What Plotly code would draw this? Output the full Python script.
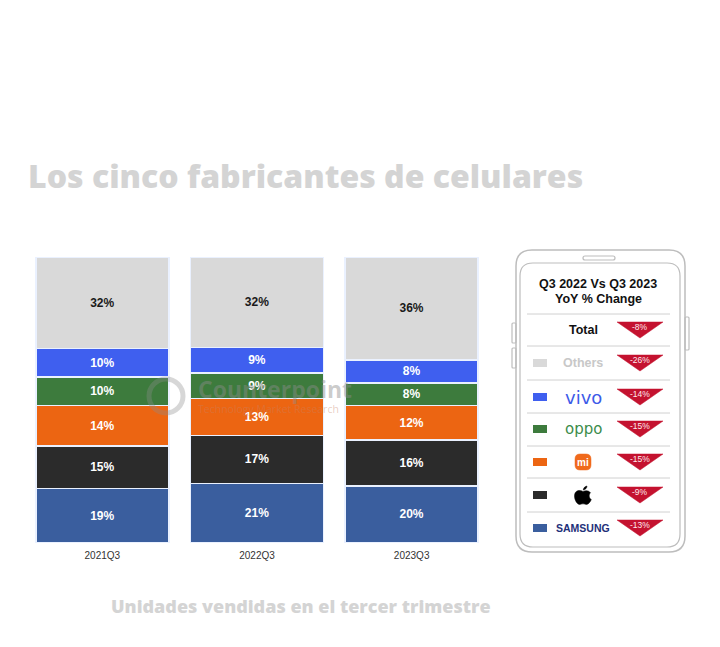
import plotly.graph_objects as go

# ---------------- data ----------------
quarters = ["2021Q3", "2022Q3", "2023Q3"]
brands = ["Samsung", "Apple", "Xiaomi", "OPPO", "vivo", "Others"]
samsung = [19, 21, 20]
apple = [15, 17, 16]
xiaomi = [14, 13, 12]
oppo = [10, 9, 8]
vivo = [10, 9, 8]
others = [32, 32, 36]
series = [samsung, apple, xiaomi, oppo, vivo, others]
colors = ["#3A5E9E", "#2B2B2B", "#EC6512", "#3D7B3D", "#3F5FEF", "#D9D9D9"]
text_colors = ["white", "white", "white", "white", "white", "#1A1A1A"]

# YoY legend (phone panel)
yoy_labels = ["Total", "Others", "vivo", "oppo", "mi", "apple", "SAMSUNG"]
yoy_values = [-8, -26, -14, -15, -15, -9, -13]

# page body has an 8px margin -> compensate
OFF = 8
SW, SH = 720, 647
W, H = SW - OFF, SH - OFF

fig = go.Figure()
for name, vals, col, tcol in zip(brands, series, colors, text_colors):
    fig.add_trace(go.Bar(
        x=quarters, y=vals, name=name, marker=dict(color=col, line=dict(color="#EAF1FF", width=1.5)),
        text=[f"{v}%" for v in vals], texttemplate="%{text}", textposition="inside",
        insidetextanchor="middle",
        textfont=dict(family="Liberation Sans, Arial", size=12, color=tcol, weight="bold"),
        hoverinfo="skip", showlegend=False, xaxis="x", yaxis="y"))

fig.add_trace(go.Scatter(x=[100], y=[100], mode="markers", marker=dict(opacity=0),
                         xaxis="x2", yaxis="y2", showlegend=False, hoverinfo="skip"))

shapes = []
ann = []

def rrect(x0, y0, x1, y1, r):
    return (f"M {x0+r} {y0} L {x1-r} {y0} Q {x1} {y0} {x1} {y0+r} L {x1} {y1-r} "
            f"Q {x1} {y1} {x1-r} {y1} L {x0+r} {y1} Q {x0} {y1} {x0} {y1-r} "
            f"L {x0} {y0+r} Q {x0} {y0} {x0+r} {y0} Z")

def addpath(path, line="#BDBDBD", fill=None, width=1.3):
    d = dict(type="path", path=path, xref="x2", yref="y2", line=dict(color=line, width=width))
    if fill:
        d["fillcolor"] = fill
    shapes.append(d)

def txt(x, y, s, size, color, weight="normal", family="Liberation Sans, Arial", opacity=1, xanchor="center"):
    ann.append(dict(x=x, y=y, xref="x2", yref="y2", text=s, showarrow=False,
                    xanchor=xanchor, yanchor="middle", opacity=opacity,
                    font=dict(family=family, size=size, color=color, weight=weight)))

# watermark
shapes.append(dict(type="circle", xref="x2", yref="y2", x0=149, y0=379, x1=183, y1=413,
                   line=dict(color="rgba(140,140,140,0.35)", width=5)))
txt(196, 389, "Counterpoint", 23, "rgba(140,140,140,0.45)", "bold", "Open Sans", xanchor="left")
txt(196, 409, "Technology Market Research", 10.5, "rgba(200,130,100,0.4)", "normal", "Open Sans", xanchor="left")

# phone body
addpath(rrect(516, 250, 685, 552, 16), "#BDBDBD", None, 1.5)
addpath(rrect(520, 263, 680, 547, 13), "#BDBDBD", None, 1.2)
addpath(rrect(583, 256, 615, 260, 2), "#BDBDBD", None, 1.2)
addpath(rrect(512, 323, 516, 343, 1), "#BDBDBD", None, 1.2)
addpath(rrect(512, 348, 516, 368, 1), "#BDBDBD", None, 1.2)
addpath(rrect(685, 317, 689, 350, 1), "#BDBDBD", None, 1.2)

txt(598, 284, "Q3 2022 Vs Q3 2023", 12.5, "#111", "bold")
txt(598, 299, "YoY % Change", 12.5, "#111", "bold")

sep_y = [314, 346, 380, 413, 446, 478, 512]
row_y = [330, 363, 397, 429, 462, 495, 528]
for sy in sep_y:
    shapes.append(dict(type="line", xref="x2", yref="y2", x0=527, x1=670, y0=sy, y1=sy,
                       line=dict(color="#D0D0D0", width=1)))

legend_cols = [None, colors[5], colors[4], colors[3], colors[2], colors[1], colors[0]]
for i, (lab, val, col, ry) in enumerate(zip(yoy_labels, yoy_values, legend_cols, row_y)):
    addpath(f"M 617 {ry-8} L 663 {ry-8} L 640 {ry+8} Z", "#C4122F", "#C4122F", 0.5)
    txt(640, ry - 3, f"{val}%", 8.5, "#FFE8EC", "normal")
    if col:
        shapes.append(dict(type="rect", xref="x2", yref="y2", x0=533, x1=547, y0=ry - 4, y1=ry + 4,
                           fillcolor=col, line=dict(width=0)))
    if lab == "Total":
        txt(583, ry, "Total", 12.5, "#111", "bold")
    elif lab == "Others":
        txt(583, ry, "Others", 12.5, "#C8C8C8", "bold")
    elif lab == "vivo":
        txt(583, ry, "vivo", 18, "#3D5BE8", "normal", "DejaVu Sans")
    elif lab == "oppo":
        txt(583, ry, "oppo", 15, "#3C8C4A", "normal", "DejaVu Sans")
    elif lab == "mi":
        addpath(rrect(575, ry - 8, 591, ry + 8, 5), "#F06A1C", "#F06A1C", 0.5)
        txt(583, ry, "mi", 10, "white", "bold")
    elif lab == "apple":
        cx, cy = 583, ry + 1
        body = (f"M {cx} {cy-4.5} C {cx-3} {cy-6.5} {cx-8.5} {cy-6} {cx-8.5} {cy} "
                f"C {cx-8.5} {cy+4.5} {cx-5.5} {cy+8.5} {cx-3.5} {cy+8.5} "
                f"C {cx-2} {cy+8.5} {cx-1.5} {cy+7.8} {cx} {cy+7.8} "
                f"C {cx+1.5} {cy+7.8} {cx+2} {cy+8.5} {cx+3.5} {cy+8.5} "
                f"C {cx+5.5} {cy+8.5} {cx+7.5} {cy+5.5} {cx+8.3} {cy+3.5} "
                f"C {cx+6} {cy+2.5} {cx+5.5} {cy-1.5} {cx+7.5} {cy-3.2} "
                f"C {cx+6} {cy-5.5} {cx+3} {cy-6} {cx} {cy-4.5} Z")
        addpath(body, "#000", "#000", 0.5)
        leaf = f"M {cx+0.3} {cy-6} C {cx+0.3} {cy-8} {cx+2} {cy-9.7} {cx+4} {cy-10} C {cx+4} {cy-8} {cx+2.3} {cy-6.2} {cx+0.3} {cy-6} Z"
        addpath(leaf, "#000", "#000", 0.5)
    elif lab == "SAMSUNG":
        txt(583, ry, "SAMSUNG", 10.5, "#1E3079", "bold", "Liberation Sans, Arial")

# title & subtitle
txt(26, 175, "Los cinco fabricantes de celulares", 32, "#D4D4D4", 800, "Open Sans", xanchor="left")
txt(301, 606, "Unidades vendidas en el tercer trimestre", 18, "#D4D4D4", 800, "Open Sans")

fig.update_layout(
    width=W, height=H, margin=dict(l=0, r=0, t=0, b=0),
    paper_bgcolor="white", plot_bgcolor="rgba(0,0,0,0)",
    barmode="stack", barnorm="percent", bargap=0.14,
    xaxis=dict(domain=[(25 - OFF) / W, (489 - OFF) / W], anchor="y", showgrid=False, zeroline=False,
               showline=False, ticks="", ticklabelstandoff=5,
               tickfont=dict(family="Liberation Sans, Arial", size=10, color="#333")),
    yaxis=dict(domain=[(SH - 543) / H, (SH - 257) / H], range=[0, 100], visible=False, anchor="x"),
    xaxis2=dict(domain=[0, 1], range=[OFF, SW], visible=False, anchor="y2"),
    yaxis2=dict(domain=[0, 1], range=[SH, OFF], visible=False, anchor="x2"),
    shapes=shapes, annotations=ann,
)
fig.write_html("out.html")
